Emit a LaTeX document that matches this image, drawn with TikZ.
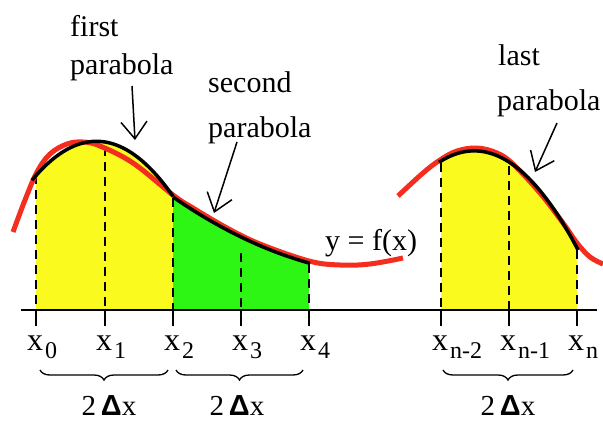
\documentclass[tikz,border=0pt]{standalone}
\usepackage{fontspec}
\setmainfont{Liberation Serif}
\newfontfamily\timesfont{Liberation Serif}
\newfontfamily\deltafont{Liberation Sans}
\usetikzlibrary{arrows.meta,decorations.pathreplacing}
\definecolor{fyellow}{HTML}{FAFA1E}
\definecolor{fgreen}{HTML}{2DF514}
\definecolor{fred}{HTML}{F52D1E}
\newcommand\annfont{\timesfont\fontsize{30}{36}\selectfont}
\newcommand\xfont{\timesfont\fontsize{32}{36}\selectfont}
\newcommand\subfont{\timesfont\fontsize{24}{28}\selectfont}
\newcommand\lab[1]{x\kern2pt\raisebox{-8pt}{\subfont #1}}
\newcommand\twodx{2\,{\deltafont\bfseries Δ}x}
\begin{document}
\begin{tikzpicture}[x=1pt,y=-1pt,
  declare function={pa(\u)=(\u-105)/68.5; pb(\u)=(\u-241)/68; pc(\u)=(\u-509)/68;
    fa(\u)=142+44*pa(\u)*pa(\u)+11*pa(\u);
    fb(\u)=237+33*pb(\u)-7*pb(\u)*pb(\u);
    fc(\u)=162+42.5*pc(\u)*pc(\u)+43.5*pc(\u);},
  ann/.style={inner sep=0pt, anchor=base west, font=\annfont},
  ticklab/.style={inner sep=0pt, anchor=base west, font=\xfont},
  dlab/.style={inner sep=0pt, anchor=base, font=\timesfont\fontsize{29}{34}\selectfont},
  redc/.style={fred, line width=5pt},
  parab/.style={black, line width=3.5pt},
  guide/.style={black, line width=1.6pt, dash pattern=on 9pt off 6pt},
  axisl/.style={black, line width=1.6pt},
  pointer/.style={black, line width=1.5pt, -{Straight Barb[length=17pt,width=26pt]}},
  brc/.style={decorate, decoration={brace, mirror, amplitude=10pt}, line width=1.3pt}]
\useasboundingbox (0,0) rectangle (603,421);
% fills
\fill[fyellow] plot[domain=36:173, samples=50, variable=\u] (\u,{fa(\u)}) -- (173,310) -- (36,310) -- cycle;
\fill[fgreen] plot[domain=173:309, samples=50, variable=\u] (\u,{fb(\u)}) -- (309,310) -- (173,310) -- cycle;
\fill[fyellow] plot[domain=441:577, samples=50, variable=\u] (\u,{fc(\u)}) -- (577,310) -- (441,310) -- cycle;
% dashed guides
\draw[guide] (36,175) -- (36,310);
\draw[guide] (105,147) -- (105,310);
\draw[guide] (173,198) -- (173,310);
\draw[guide] (241,253) -- (241,310);
\draw[guide] (309,264) -- (309,310);
\draw[guide] (441,163) -- (441,310);
\draw[guide] (509,166) -- (509,310);
\draw[guide] (577,250) -- (577,310);
% axis and ticks
\draw[axisl] (21,310) -- (597,310);
\foreach \t in {36,105,173,241,309,441,509,577} \draw[axisl] (\t,310) -- (\t,326);
% red function
\draw[redc] plot[smooth, tension=0.6] coordinates {(13,232) (25,200) (37,172) (50,154) (67,144) (83,142) (100,146) (133,163) (173,195) (193,208) (227,228) (260,244) (309,261) (340,265) (370,264) (403,258)};
\draw[redc] plot[smooth, tension=0.6] coordinates {(398,196) (423,173) (440,160) (457,151) (477,148) (497,153) (513,164) (540,193) (563,223) (577,243) (590,257) (603,264)};
% parabolas
\draw[parab] plot[domain=32:173, samples=60, variable=\u] (\u,{fa(\u)});
\draw[parab] plot[domain=173:310, samples=60, variable=\u] (\u,{fb(\u)});
\draw[parab] plot[domain=439:578, samples=60, variable=\u] (\u,{fc(\u)});
% tick labels
\node[ticklab] (l0) at (27,350) {\lab{0}};
\node[ticklab] (l1) at (96,350) {\lab{1}};
\node[ticklab] (l2) at (164,350) {\lab{2}};
\node[ticklab] (l3) at (232,350) {\lab{3}};
\node[ticklab] (l4) at (300,350) {\lab{4}};
\node[ticklab] (ln2) at (432,350) {\lab{n-2}};
\node[ticklab] (ln1) at (500,350) {\lab{n-1}};
\node[ticklab] (ln) at (568,350) {\lab{n}};
% braces
\draw[brc] (40,370) -- (168,370);
\draw[brc] (176,370) -- (303,370);
\draw[brc] (443,370) -- (573,370);
\node[dlab] (d1) at (109,415) {\twodx};
\node[dlab] (d2) at (237,415) {\twodx};
\node[dlab] (d3) at (508,415) {\twodx};
% annotations
\node[ann] (first) at (70,36) {first};
\node[ann] (p1) at (70,74) {parabola};
\node[ann] (second) at (208,92) {second};
\node[ann] (p2) at (208,137) {parabola};
\node[ann] (last) at (498,65) {last};
\node[ann] (p3) at (497,110) {parabola};
\node[ann] (fx) at (325,250) {y = f(x)};
% pointers
\coordinate (a1s) at (132,86); \coordinate (a1e) at (135,140);
\coordinate (a2s) at (237,142); \coordinate (a2e) at (214,213);
\coordinate (a3s) at (557,123); \coordinate (a3e) at (535,172);
\draw[pointer] (a1s) -- (a1e);
\draw[pointer] (a2s) -- (a2e);
\draw[pointer] (a3s) -- (a3e);
\end{tikzpicture}
\end{document}
